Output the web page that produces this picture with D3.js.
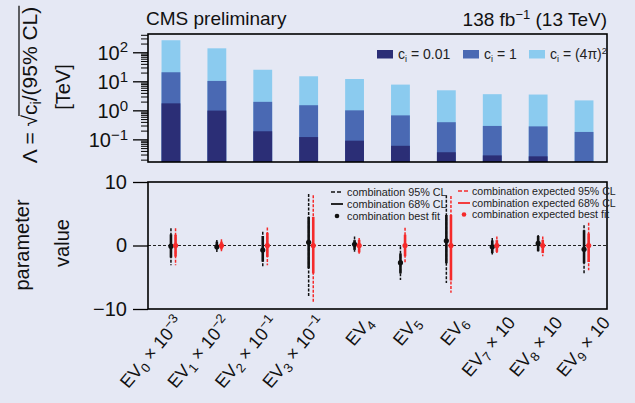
<!DOCTYPE html>
<html><head><meta charset="utf-8">
<script src="https://cdn.jsdelivr.net/npm/d3@7"></script>
<style>
html,body{margin:0;padding:0;background:#e5e8f4;}
svg{display:block;font-family:"Liberation Sans",Arial,sans-serif;}
</style></head><body>
<svg id="c" width="635" height="403"></svg>
<script>
// ---------- data ----------
const categories = ["EV0","EV1","EV2","EV3","EV4","EV5","EV6","EV7","EV8","EV9"];
const evSub = ["0","1","2","3","4","5","6","7","8","9"];
const scaleText = ["× 10","× 10","× 10","× 10","","","","× 10","× 10","× 10"];
const scaleExp = ["−3","−2","−1","−1","","","","","",""];

// Lambda limits [TeV]
const lambda001 = [1.74, 0.98, 0.19, 0.12, 0.09, 0.06, 0.036, 0.028, 0.026, 0.017];
const lambda1   = [20.5, 10.3, 1.96, 1.5, 1.0, 0.67, 0.39, 0.29, 0.28, 0.18];
const lambda4pi = [260, 137, 25, 14.9, 12, 7.7, 4.9, 3.6, 3.5, 2.2];

// parameter fits
const obsBest = [-0.1, -0.2, -0.72, 0.5, 0.2, -2.7, 0.75, -0.2, 0.33, -0.6];
const obs68Lo = [-1.9, -0.6, -2.55, -3.6, -0.7, -4.4, -2.8, -1.2, -0.9, -2.8];
const obs68Hi = [1.75, 0.6, 1.5, 4.5, 0.85, -1.25, 4.8, 0.8, 1.5, 2.4];
const obs95Lo = [-3.1, -1.1, -3.45, -8.1, -1.0, -5.45, -5.9, -1.5, -1.1, -4.4];
const obs95Hi = [2.7, 0.85, 2.15, 8.1, 1.4, -0.1, 7.9, 1.2, 1.65, 3.2];
const expBest = [0, 0, 0, 0, 0, 0, 0, 0, 0, 0];
const exp68Lo = [-1.75, -0.6, -1.8, -4.4, -1.1, -1.7, -5.5, -1.0, -1.2, -2.6];
const exp68Hi = [1.7, 0.6, 2.0, 4.5, 0.9, 1.7, 4.8, 0.85, 0.9, 1.9];
const exp95Lo = [-3.1, -1.0, -3.1, -9.1, -1.3, -2.8, -7.45, -1.4, -1.7, -3.9];
const exp95Hi = [2.7, 1.0, 2.85, 7.9, 1.2, 2.8, 7.8, 1.4, 1.4, 3.6];

const yTopTicks = [0.1, 1, 10, 100];
const yTopExp = ["−1","0","1","2"];
const yBotTicks = [-10, 0, 10];

// ---------- layout ----------
const svg = d3.select("#c");
const L = 148, R = 607;
const top1 = 34, bot1 = 162, top2 = 182, bot2 = 309;
const colDark = "#2b2e76", colMed = "#4a69b3", colLight = "#8bcbef";
const colRed = "#f52a2a";
const bg = "#e5e8f4";
svg.append("rect").attr("width",635).attr("height",403).attr("fill",bg);

const x = d3.scaleBand().domain(categories).range([L,R]).paddingInner(0.59).paddingOuter(0.295);
const xc = d => x(d) + x.bandwidth()/2;
// label anchor positions (labels are spread slightly wider than the ticks)
const xLab = d3.scalePoint().domain(categories).range([184, 611]);
const yT = d3.scaleLog().domain([Math.pow(10,-1.78), Math.pow(10,2.63)]).range([bot1, top1]);
const yB = d3.scaleLinear().domain([-10,10]).range([bot2, top2]);

// ---------- top panel bars ----------
const barSets = [[lambda4pi,colLight],[lambda1,colMed],[lambda001,colDark]];
barSets.forEach(([vals,col])=>{
  svg.append("g").selectAll("rect").data(categories).join("rect")
    .attr("x", d=>x(d)).attr("width", x.bandwidth())
    .attr("y", (d,i)=>Math.min(bot1, yT(vals[i])))
    .attr("height", (d,i)=>Math.max(0, bot1 - yT(vals[i])))
    .attr("fill", col);
});

// minor ticks top
const minors = [];
for (let e=-2;e<=2;e++) for (let m=2;m<=9;m++){ const v=m*Math.pow(10,e); if (v>=yT.domain()[0] && v<=yT.domain()[1]) minors.push(v); }
const gMinor = svg.append("g").attr("transform",`translate(${L},0)`)
  .call(d3.axisLeft(yT).tickValues(minors).tickSize(7).tickFormat(""));
gMinor.select(".domain").remove();
gMinor.selectAll("line").attr("stroke","#000").attr("stroke-width",1);

const gTop = svg.append("g").attr("transform",`translate(${L},0)`)
  .call(d3.axisLeft(yT).tickValues(yTopTicks).tickSize(15).tickPadding(5).tickFormat(""));
gTop.select(".domain").remove();
gTop.selectAll("line").attr("stroke","#000").attr("stroke-width",1.3);
gTop.selectAll(".tick").each(function(d,i){
  const t = d3.select(this).append("text").attr("x",-20).attr("dy","0.36em")
    .attr("text-anchor","end").attr("fill","#111").style("font-size","20px");
  t.append("tspan").text("10");
  t.append("tspan").attr("dy","-0.5em").style("font-size","15px").text(yTopExp[i]);
});

svg.append("rect").attr("x",L).attr("y",top1).attr("width",R-L).attr("height",bot1-top1)
  .attr("fill","none").attr("stroke","#000").attr("stroke-width",1.6);

// top legend
const legT = [[colDark,"0.01",377],[colMed,"1",463],[colLight,"(4π)",529]];
legT.forEach(([col,val,lx],i)=>{
  svg.append("rect").attr("x",lx).attr("y",50).attr("width",16).attr("height",8.5).attr("fill",col);
  const t = svg.append("text").attr("x",lx+21).attr("y",59).style("font-size","14px").attr("fill","#222");
  t.append("tspan").text("c");
  t.append("tspan").attr("dy","3").style("font-size","9px").text("i");
  t.append("tspan").attr("dy","-3").text(" = " + val);
  if (i===2) t.append("tspan").attr("dy","-5").style("font-size","9px").text("2");
});

// titles
svg.append("text").attr("x",146).attr("y",25).style("font-size","19px").attr("fill","#111").text("CMS preliminary");
const lum = svg.append("text").attr("x",607).attr("y",26).attr("text-anchor","end").style("font-size","19px").attr("fill","#111");
lum.append("tspan").text("138 fb");
lum.append("tspan").attr("dy","-7").style("font-size","13px").text("−1");
lum.append("tspan").attr("dy","7").text(" (13 TeV)");

// top y label
const gl = svg.append("g").attr("transform","translate(37,85) rotate(-90)");
const part1 = gl.append("text").attr("text-anchor","start").style("font-size","21px").attr("fill","#111");
part1.append("tspan").text("Λ = √");
const w1 = part1.node().getComputedTextLength();
const part2 = gl.append("text").style("font-size","21px").attr("fill","#111");
part2.append("tspan").text("c");
part2.append("tspan").attr("dy","4").style("font-size","14px").text("i");
part2.append("tspan").attr("dy","-4").text("/(95% CL)");
const w2 = part2.node().getComputedTextLength();
const total = w1 + w2;
part1.attr("x", -total/2);
part2.attr("x", -total/2 + w1);
gl.append("line").attr("x1",-total/2 + w1 - 1).attr("x2", total/2 + 1).attr("y1",-18).attr("y2",-18)
  .attr("stroke","#111").attr("stroke-width",1.3);
svg.append("text").attr("transform","translate(70,87) rotate(-90)").attr("text-anchor","middle")
  .style("font-size","20px").attr("fill","#111").text("[TeV]");

// ---------- bottom panel ----------
svg.append("line").attr("x1",L).attr("x2",R).attr("y1",yB(0)).attr("y2",yB(0))
  .attr("stroke","#222").attr("stroke-width",1).attr("stroke-dasharray","3,2");

const gB = svg.append("g").attr("transform",`translate(${L},0)`)
  .call(d3.axisLeft(yB).tickValues(yBotTicks).tickSize(15).tickPadding(6).tickFormat(d=> d<0 ? "−"+Math.abs(d) : d));
gB.select(".domain").remove();
gB.selectAll("line").attr("stroke","#000").attr("stroke-width",1.3);
gB.selectAll("text").style("font-size","20px").attr("fill","#111");

const off = 4.6;
function drawBars(lo95,hi95,lo68,hi68,best,col,dx){
  const g = svg.append("g");
  g.selectAll("line.d").data(categories).join("line").attr("class","d")
    .attr("x1",(d)=>xc(d)+dx).attr("x2",(d)=>xc(d)+dx)
    .attr("y1",(d,i)=>yB(hi95[i])).attr("y2",(d,i)=>yB(lo95[i]))
    .attr("stroke",col).attr("stroke-width",1.5).attr("stroke-dasharray","3,1.5");
  g.selectAll("line.s").data(categories).join("line").attr("class","s")
    .attr("x1",(d)=>xc(d)+dx).attr("x2",(d)=>xc(d)+dx)
    .attr("y1",(d,i)=>yB(hi68[i])).attr("y2",(d,i)=>yB(lo68[i]))
    .attr("stroke",col).attr("stroke-width",2.6);
  g.selectAll("circle").data(categories).join("circle")
    .attr("cx",(d)=>xc(d)+dx).attr("cy",(d,i)=>yB(best[i])).attr("r",2.6).attr("fill",col);
}
drawBars(obs95Lo,obs95Hi,obs68Lo,obs68Hi,obsBest,"#111",0);
drawBars(exp95Lo,exp95Hi,exp68Lo,exp68Hi,expBest,colRed,off);

svg.append("rect").attr("x",L).attr("y",top2).attr("width",R-L).attr("height",bot2-top2)
  .attr("fill","none").attr("stroke","#000").attr("stroke-width",1.6);

// bottom legend
const legB = [
  ["#111",331,347,"combination 95% CL","dash",192,"10.8px"],
  ["#111",331,347,"combination 68% CL","solid",204,"10.8px"],
  ["#111",331,347,"combination best fit","dot",216,"10.8px"],
  ["#f52a2a",458,472,"combination expected 95% CL","dash",191,"10.6px"],
  ["#f52a2a",458,472,"combination expected 68% CL","solid",203,"10.6px"],
  ["#f52a2a",458,472,"combination expected best fit","dot",214.5,"10.6px"]
];
legB.forEach(([col,hx,tx,label,kind,ly,fs])=>{
  if (kind==="dot") svg.append("circle").attr("cx",hx+6).attr("cy",ly).attr("r",2.3).attr("fill",col);
  else svg.append("line").attr("x1",hx).attr("x2",hx+12).attr("y1",ly).attr("y2",ly)
    .attr("stroke",col).attr("stroke-width",kind==="solid"?1.8:1.5)
    .attr("stroke-dasharray",kind==="dash"?"4,2":null);
  svg.append("text").attr("x",tx).attr("y",ly+3.8).style("font-size",fs).attr("fill","#222").text(label);
});

// bottom y label
svg.append("text").attr("transform","translate(29,245) rotate(-90)").attr("text-anchor","middle")
  .style("font-size","20px").attr("fill","#111").text("parameter");
svg.append("text").attr("transform","translate(69,243) rotate(-90)").attr("text-anchor","middle")
  .style("font-size","20px").attr("fill","#111").text("value");

// x labels
categories.forEach((c,i)=>{
  const t = svg.append("text").attr("transform",`translate(${xLab(c)},323) rotate(-50)`)
    .attr("text-anchor","end").style("font-size","18px").attr("fill","#111");
  t.append("tspan").text("EV");
  t.append("tspan").attr("dy","4").style("font-size","13px").text(evSub[i]);
  if (scaleText[i]) {
    t.append("tspan").attr("dy","-4").text(" " + scaleText[i]);
    if (scaleExp[i]) t.append("tspan").attr("dy","-7").style("font-size","13px").text(scaleExp[i]);
  }
});
</script>
</body></html>
